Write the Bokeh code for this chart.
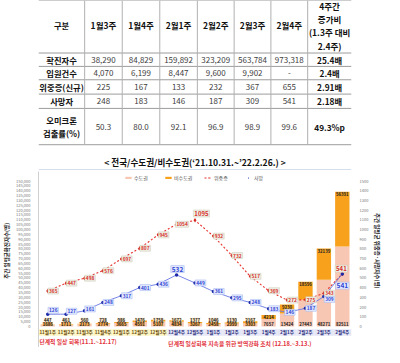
import numpy as np
from bokeh.plotting import figure
from bokeh.models import Range1d, LinearAxis, FixedTicker, NumeralTickFormatter, Legend, LegendItem
from bokeh.layouts import column
from bokeh.core.properties import value
from bokeh.embed import file_html
from bokeh.resources import INLINE

FONT = "Noto Sans CJK KR"

# ---------------- table data ----------------
table_corner = "구분"
table_weeks = ["1월3주", "1월4주", "2월1주", "2월2주", "2월3주", "2월4주"]
table_row_names = [["확진자수"], ["입원건수"], ["위중증(신규)"], ["사망자"], ["오미크론", "검출률(%)"]]
confirmed_weekly = [38290, 84829, 159892, 323209, 563784, 973318]
hospitalized = [4070, 6199, 8447, 9600, 9902, None]
critical_new = [225, 167, 133, 232, 367, 655]
deaths_weekly = [248, 183, 146, 187, 309, 541]
omicron_rate = [50.3, 80.0, 92.1, 96.9, 98.9, 99.6]
ratio_header = ["4주간", "증가비", "(1.3주 대비", "2.4주)"]
ratios = ["25.4배", "2.4배", "2.91배", "2.18배", "49.3%p"]

# ---------------- chart data ----------------
chart_title = "< 전국/수도권/비수도권(‘21.10.31.~’22.2.26.) >"
weeks = ["11월1주", "11월2주", "11월3주", "11월4주", "12월1주", "12월2주", "12월3주",
         "12월4주", "12월5주", "1월1주", "1월2주", "1월3주", "1월4주",
         "2월1주", "2월2주", "2월3주", "2월4주"]
metro = [1686, 1711, 2173, 2774, 3665, 4591, 5107, 4834, 3267, 2458, 2999, 3303, 7657,
         13424, 27443, 48271, 82511]
nonmetro = [447, 461, 560, 728, 986, 1476, 1758, 1672, 1377, 1046, 1130, 2167, 4214,
            9230, 18596, 32139, 56391]
critical = [365, 447, 498, 576, 697, 807, 945, 1054, 1095, 932, 732, 517, 369, 272, 275, 343, 541]
deaths = [126, 127, 161, 248, 317, 401, 436, 532, 449, 361, 295, 248, 183, 146, 187, 309, 541]
series_names = ["수도권", "비수도권", "위중증", "사망"]
period_names = ["단계적 일상 회복(11.1.~12.17)", "단계적 일상회복 지속을 위한 방역강화 조치 (12.18.~3.13.)"]
period_len = [7, 10]
left_label = "주간 일평균확진자수(명)"
right_label = "주간 일평균 위중증·사망자수(명)"

# ---------------- layout ----------------
W, H = 384, 347
TH = 170
CH = H - TH

# ===== table figure (coordinates in reference-pixel layout units) =====
tp = figure(width=W, height=TH, x_range=Range1d(0, 400), y_range=Range1d(178, 0),
            output_backend="svg", toolbar_location=None, min_border=0,
            x_axis_location=None, y_axis_location=None)
tp.grid.visible = False
tp.outline_line_color = None

col_edges = [0, 59, 107, 155, 203, 250, 297, 344, 400]
row_edges = [0, 55, 69, 83, 98, 113, 151]
col_c = [(col_edges[i] + col_edges[i + 1]) / 2 for i in range(len(col_edges) - 1)]
row_c = [(row_edges[i] + row_edges[i + 1]) / 2 for i in range(len(row_edges) - 1)]
LINE = 14  # line spacing of multi-line cells

# grid lines
tp.segment(x0=[0] * len(row_edges), x1=[400] * len(row_edges), y0=row_edges, y1=row_edges,
           line_color="#9c9c9c", line_width=1)
inner = col_edges[1:-1]
tp.segment(x0=inner, x1=inner, y0=[0] * len(inner), y1=[row_edges[-1]] * len(inner),
           line_color="#b0b0b0", line_width=1)
tp.segment(x0=[0], x1=[400], y0=[177.5], y1=[177.5], line_color="#a9bcd6", line_width=1)


def lines_at(xc, yc, lines):
    n = len(lines)
    return [xc] * n, [yc + (j - (n - 1) / 2) * LINE for j in range(n)], list(lines)


# header
tp.text(x=col_c[1:7], y=[row_c[0] - 2] * 6, text=table_weeks,
        text_font=value(FONT), text_font_size="8.5px", text_font_style="bold",
        text_color="#111111", text_align="center", text_baseline="middle")
hx, hy, ht = lines_at(col_c[7], row_c[0] - 1, ratio_header)
tp.text(x=hx, y=hy, text=ht, text_font=value(FONT),
        text_font_size="8.5px", text_font_style="bold", text_color="#111111",
        text_align="center", text_baseline="middle")

# row names
nx, ny, nt = lines_at(col_c[0], row_c[0] - 2, [table_corner])
for r, names in enumerate(table_row_names):
    a, b, c = lines_at(col_c[0], row_c[r + 1], names)
    nx += a; ny += b; nt += c
tp.text(x=nx, y=ny, text=nt, text_font=value(FONT),
        text_font_size="8.3px", text_font_style="bold", text_color="#111111",
        text_align="center", text_baseline="middle")

# values
rows_fmt = [
    [f"{v:,}" for v in confirmed_weekly],
    [f"{v:,}" if v is not None else "-" for v in hospitalized],
    [f"{v:,}" for v in critical_new],
    [f"{v:,}" for v in deaths_weekly],
    [f"{v:.1f}" for v in omicron_rate],
]
vx, vy, vt = [], [], []
for r, vals in enumerate(rows_fmt):
    for c, s in enumerate(vals):
        vx.append(col_c[c + 1]); vy.append(row_c[r + 1]); vt.append(s)
tp.text(x=vx, y=vy, text=vt, text_font=value(FONT), text_font_size="8px",
        text_color="#404040", text_align="center", text_baseline="middle")
tp.text(x=[col_c[7]] * 5, y=row_c[1:], text=ratios, text_font=value(FONT),
        text_font_size="8.3px", text_font_style="bold", text_color="#111111",
        text_align="center", text_baseline="middle")

# chart title
tp.text(x=[200], y=[169], text=[chart_title], text_font=value(FONT), text_font_size="8.6px",
        text_font_style="bold", text_color="#111111", text_align="center", text_baseline="middle")

# ===== chart figure =====
k = 150000 / 152.0          # left units per reference pixel
Y_TOP, Y_BOT = 162 * k, -22 * k
cp = figure(width=W, height=CH, x_range=Range1d(-0.5, len(weeks) - 0.5),
            y_range=Range1d(Y_BOT, Y_TOP), output_backend="svg", toolbar_location=None,
            min_border_left=26, min_border_right=21, min_border_top=1, min_border_bottom=0,
            x_axis_location=None, y_axis_location="left")
cp.grid.visible = False
cp.outline_line_color = None
cp.extra_y_ranges = {"r": Range1d(Y_BOT / 100, Y_TOP / 100)}

ya = cp.yaxis[0]
ya.ticker = FixedTicker(ticks=list(range(0, 150001, 5000)))
ya.formatter = NumeralTickFormatter(format="0,0")
ya.major_label_text_font_size = "4px"
ya.major_label_text_color = "#777777"
ya.major_label_text_font = FONT
ya.axis_line_color = "#d0d0d0"
ya.major_tick_line_color = None
ya.minor_tick_line_color = None
ya.major_label_standoff = 2
ya.axis_label = "\u00a0" * 14 + left_label
ya.axis_label_text_font = FONT
ya.axis_label_text_font_size = "5.5px"
ya.axis_label_text_font_style = "bold"
ya.axis_label_text_color = "#222222"
ya.axis_label_standoff = 2

ra = LinearAxis(y_range_name="r", ticker=FixedTicker(ticks=list(range(0, 1501, 100))))
ra.major_label_text_font_size = "4px"
ra.major_label_text_color = "#777777"
ra.major_label_text_font = FONT
ra.axis_line_color = None
ra.major_tick_line_color = None
ra.minor_tick_line_color = None
ra.major_label_standoff = 2
ra.axis_label = right_label + "\u00a0" * 14
ra.axis_label_text_font = FONT
ra.axis_label_text_font_size = "5.5px"
ra.axis_label_text_font_style = "bold"
ra.axis_label_text_color = "#222222"
ra.axis_label_standoff = 2
cp.add_layout(ra, "right")

idx = np.arange(len(weeks))
metro_a = np.array(metro)
total = metro_a + np.array(nonmetro)

r_metro = cp.vbar(x=idx, width=0.78, bottom=0, top=metro, fill_color="#f8c7b3", line_color=None)
r_non = cp.vbar(x=idx, width=0.78, bottom=metro, top=total, fill_color="#f7a11c", line_color=None)

r_cl = cp.line(idx, critical, y_range_name="r", line_color="#e5322d", line_dash="2 2", line_width=1.1)
r_cm = cp.scatter(idx, critical, y_range_name="r", marker="diamond", size=4.5,
                  fill_color="#d62a22", line_color=None)
r_dl = cp.line(idx, deaths, y_range_name="r", line_color="#6878e4", line_width=0.9)
r_dm = cp.scatter(idx, deaths, y_range_name="r", marker="circle", size=3.5,
                  fill_color="#1c2aa8", line_color=None)

# bar labels
small = total < 7000
non_y = np.maximum(total - 2500, 7000)
cp.text(x=idx, y=non_y, text=[str(v) for v in nonmetro], text_font=value(FONT),
        text_font_size="4.3px", text_font_style="bold", text_color="#222222",
        text_align="center", text_baseline="middle",
        background_fill_color="#fbe3bd", background_fill_alpha=[0.9 if s else 0 for s in small],
        padding=0)
cp.text(x=idx, y=[2500] * len(idx), text=[str(v) for v in metro], text_font=value(FONT),
        text_font_size="4.3px", text_font_style="bold", text_color="#222222",
        text_align="center", text_baseline="middle",
        background_fill_color="#f6a94e", background_fill_alpha=[0.9 if s else 0 for s in small],
        padding=0)

# line labels (layout offsets kept separate from data)
crit_dx = [0.3] * 17
crit_dy = [0] * 17
crit_dy[8] = 70; crit_dx[8] = 0.35
crit_dy[16] = 55; crit_dx[16] = -0.05
crit_big = [False] * 17; crit_big[8] = True; crit_big[16] = True
dth_dx = [0.3] * 17
dth_dy = [40, 30, 20, 0, 0, 0, 0, 60, 0, 0, 0, 0, 0, 0, 0, -30, -120]
dth_dx[7] = 0.05; dth_dx[16] = 0.0; dth_dx[13] = 0.15
dth_big = [False] * 17; dth_big[7] = True; dth_big[16] = True

for big in (False, True):
    sel = [i for i in range(17) if crit_big[i] == big]
    cp.text(x=[i + crit_dx[i] for i in sel], y=[critical[i] + crit_dy[i] for i in sel],
            y_range_name="r", text=[str(critical[i]) for i in sel], text_font=value(FONT),
            text_font_size="6px" if big else "4.8px", text_font_style="bold",
            text_color="#d8302c", text_align="center", text_baseline="middle",
            background_fill_color="#eeeee4", border_line_color="#c8c8b6", border_line_width=0.5,
            padding=1)
    sel = [i for i in range(17) if dth_big[i] == big]
    cp.text(x=[i + dth_dx[i] for i in sel], y=[deaths[i] + dth_dy[i] for i in sel],
            y_range_name="r", text=[str(deaths[i]) for i in sel], text_font=value(FONT),
            text_font_size="6.5px" if big else "4.8px", text_font_style="bold",
            text_color="#3145d6", text_align="center", text_baseline="middle",
            background_fill_color="#e4eafc", border_line_color="#9fb2f0", border_line_width=0.5,
            padding=1)

# category label band (continuous per period)
period_of = sum([[p] * n for p, n in enumerate(period_len)], [])
band_fill = ["#fdf4c4" if p == 0 else "#e5e6f6" for p in period_of]
lab_col = ["#6b4e12" if p == 0 else "#2d3180" for p in period_of]
cp.quad(left=idx - 0.5, right=idx + 0.5, bottom=-9.7 * k, top=-3.0 * k,
        fill_color=band_fill, line_color=None)
cp.text(x=idx, y=[-5.8 * k] * len(idx), text=weeks, text_font=value(FONT), text_font_size="4.6px",
        text_font_style="bold", text_color=lab_col, text_align="center", text_baseline="middle")

# period notes
starts = np.cumsum([0] + period_len[:-1])
note_dy = [-15.7 * k, -18.3 * k]
cp.text(x=[s - 0.45 for s in starts], y=note_dy, text=period_names,
        text_font=value(FONT), text_font_size="5.8px", text_font_style="bold",
        text_color="#e2303a", text_align="left", text_baseline="middle")

legend = Legend(items=[LegendItem(label=series_names[0], renderers=[r_metro]),
                       LegendItem(label=series_names[1], renderers=[r_non]),
                       LegendItem(label=series_names[2], renderers=[r_cl, r_cm]),
                       LegendItem(label=series_names[3], renderers=[r_dm])],
                location=(86, 166), orientation="horizontal", label_text_font_size="5px",
                label_text_font=FONT, label_text_color="#555555", glyph_width=8, glyph_height=3,
                label_standoff=2, spacing=10, padding=1, margin=0, border_line_color=None,
                background_fill_alpha=0, label_height=5)
cp.add_layout(legend)

layout = column(tp, cp, spacing=0)
open("out.html", "w").write(file_html(layout, INLINE))
